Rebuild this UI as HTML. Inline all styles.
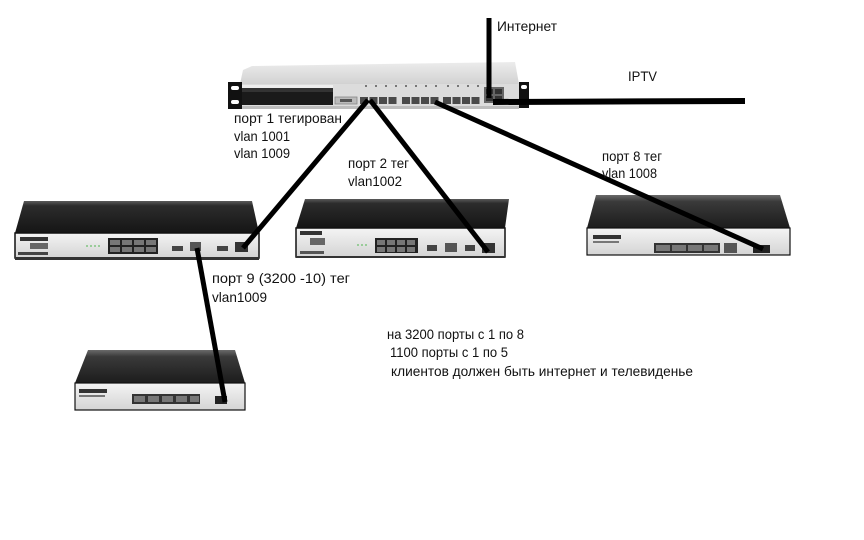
<!DOCTYPE html>
<html><head><meta charset="utf-8"><style>
html,body{margin:0;padding:0;background:#fff;}
svg{display:block;}
text{font-family:"Liberation Sans","Noto Sans CJK SC",sans-serif;font-size:14px;fill:#111;}
</style></head><body>
<svg width="864" height="540" viewBox="0 0 864 540" xmlns="http://www.w3.org/2000/svg">
<defs>
<linearGradient id="tg" x1="0" y1="0" x2="0" y2="1"><stop offset="0" stop-color="#ececec"/><stop offset="1" stop-color="#d2d2d2"/></linearGradient>
<linearGradient id="dk" x1="0" y1="0" x2="0" y2="1"><stop offset="0" stop-color="#5a5a5a"/><stop offset="0.15" stop-color="#2c2c2c"/><stop offset="1" stop-color="#151515"/></linearGradient>
<linearGradient id="dk2" x1="0" y1="0" x2="0" y2="1"><stop offset="0" stop-color="#6a6a6a"/><stop offset="0.2" stop-color="#3a3a3a"/><stop offset="1" stop-color="#1c1c1c"/></linearGradient>
<linearGradient id="fr" x1="0" y1="0" x2="0" y2="1"><stop offset="0" stop-color="#f4f4f4"/><stop offset="1" stop-color="#d4d4d4"/></linearGradient>
</defs>
<rect width="864" height="540" fill="#fff"/>

<!-- TOP SWITCH -->
<polygon points="243,70 252,66 515,62 519,84 240,84" fill="url(#tg)"/>
<rect x="240" y="84" width="279" height="24" fill="#dcdcdc"/>
<rect x="240" y="106" width="279" height="3" fill="#bdbdbd"/>
<rect x="228" y="82" width="14" height="27" fill="#111"/>
<rect x="231" y="86" width="8" height="4" rx="2" fill="#fff"/>
<rect x="231" y="100" width="8" height="4" rx="2" fill="#fff"/>
<rect x="519" y="82" width="10" height="26" fill="#111"/>
<rect x="521" y="85" width="6" height="4" rx="2" fill="#fff"/>
<rect x="242" y="85" width="91" height="3" fill="#eee"/>
<rect x="242" y="88" width="91" height="17" fill="#1a1a1a"/>
<rect x="242" y="88" width="91" height="4" fill="#333"/>
<rect x="335" y="97" width="22" height="7" fill="#bbb" stroke="#888" stroke-width="0.8"/>
<rect x="340" y="99" width="12" height="3" fill="#555"/>
<g fill="#4a4a4a">
<rect x="360" y="97" width="8" height="7"/><rect x="369.5" y="97" width="8" height="7"/><rect x="379" y="97" width="8" height="7"/><rect x="388.5" y="97" width="8" height="7"/>
<rect x="402" y="97" width="8" height="7"/><rect x="411.5" y="97" width="8" height="7"/><rect x="421" y="97" width="8" height="7"/><rect x="430.5" y="97" width="8" height="7"/>
<rect x="443" y="97" width="8" height="7"/><rect x="452.5" y="97" width="8" height="7"/><rect x="462" y="97" width="8" height="7"/><rect x="471.5" y="97" width="8" height="7"/>
</g>
<g fill="#777"><rect x="365" y="85" width="2" height="2"/><rect x="375" y="85" width="2" height="2"/><rect x="385" y="85" width="2" height="2"/><rect x="395" y="85" width="2" height="2"/><rect x="405" y="85" width="2" height="2"/><rect x="415" y="85" width="2" height="2"/><rect x="425" y="85" width="2" height="2"/><rect x="435" y="85" width="2" height="2"/><rect x="447" y="85" width="2" height="2"/><rect x="457" y="85" width="2" height="2"/><rect x="467" y="85" width="2" height="2"/><rect x="477" y="85" width="2" height="2"/></g>
<rect x="484" y="87" width="20" height="16" fill="#666"/>
<rect x="486" y="89" width="7" height="5" fill="#333"/><rect x="495" y="89" width="7" height="5" fill="#333"/>
<rect x="486" y="96" width="7" height="5" fill="#333"/><rect x="495" y="96" width="7" height="5" fill="#333"/>

<!-- LEFT SWITCH -->
<polygon points="24,201 252,201 259,233 15,233" fill="url(#dk)"/>
<rect x="15" y="233" width="244" height="25" fill="url(#fr)" stroke="#111" stroke-width="1.5"/>
<rect x="15" y="257" width="244" height="3" fill="#333"/>
<rect x="20" y="237" width="28" height="4" fill="#333"/>
<rect x="30" y="243" width="18" height="6" fill="#666"/>
<rect x="18" y="252" width="30" height="3" fill="#444"/>
<g fill="#9c9"><rect x="86" y="245" width="2" height="2"/><rect x="90" y="245" width="2" height="2"/><rect x="94" y="245" width="2" height="2"/><rect x="98" y="245" width="2" height="2"/></g>
<rect x="108" y="238" width="50" height="16" fill="#222"/>
<g fill="#777"><rect x="110" y="240" width="10" height="5"/><rect x="122" y="240" width="10" height="5"/><rect x="134" y="240" width="10" height="5"/><rect x="146" y="240" width="10" height="5"/><rect x="110" y="247" width="10" height="5"/><rect x="122" y="247" width="10" height="5"/><rect x="134" y="247" width="10" height="5"/><rect x="146" y="247" width="10" height="5"/></g>
<rect x="172" y="246" width="11" height="5" fill="#444"/>
<rect x="190" y="242" width="11" height="9" fill="#555"/>
<rect x="217" y="246" width="11" height="5" fill="#444"/>
<rect x="235" y="242" width="13" height="10" fill="#333"/>

<!-- MIDDLE SWITCH -->
<polygon points="305,199 509,199 505,228 296,228" fill="url(#dk)"/>
<rect x="296" y="228" width="209" height="29" fill="url(#fr)" stroke="#111" stroke-width="1.5"/>
<rect x="296" y="256" width="209" height="2" fill="#333"/>
<rect x="300" y="231" width="22" height="4" fill="#333"/>
<rect x="310" y="238" width="15" height="7" fill="#666"/>
<rect x="300" y="251" width="24" height="3" fill="#555"/>
<g fill="#9c9"><rect x="357" y="244" width="2" height="2"/><rect x="361" y="244" width="2" height="2"/><rect x="365" y="244" width="2" height="2"/></g>
<rect x="375" y="238" width="43" height="15" fill="#222"/>
<g fill="#777"><rect x="377" y="240" width="8" height="5"/><rect x="387" y="240" width="8" height="5"/><rect x="397" y="240" width="8" height="5"/><rect x="407" y="240" width="8" height="5"/><rect x="377" y="247" width="8" height="5"/><rect x="387" y="247" width="8" height="5"/><rect x="397" y="247" width="8" height="5"/><rect x="407" y="247" width="8" height="5"/></g>
<rect x="427" y="245" width="10" height="6" fill="#444"/>
<rect x="445" y="243" width="12" height="9" fill="#555"/>
<rect x="465" y="245" width="10" height="6" fill="#444"/>
<rect x="482" y="243" width="13" height="10" fill="#333"/>

<!-- RIGHT SWITCH -->
<polygon points="596,195 780,195 790,228 587,228" fill="url(#dk2)"/>
<rect x="587" y="228" width="203" height="27" fill="url(#fr)" stroke="#111" stroke-width="1.2"/>
<rect x="593" y="235" width="28" height="4" fill="#333"/>
<rect x="593" y="241" width="26" height="2" fill="#777"/>
<rect x="654" y="243" width="66" height="10" fill="#333"/>
<g fill="#777"><rect x="656" y="245" width="14" height="6"/><rect x="672" y="245" width="14" height="6"/><rect x="688" y="245" width="14" height="6"/><rect x="704" y="245" width="14" height="6"/></g>
<rect x="724" y="243" width="13" height="10" fill="#555"/>
<rect x="753" y="245" width="17" height="8" fill="#222"/>

<!-- BOTTOM SWITCH -->
<polygon points="88,350 235,350 245,383 75,383" fill="url(#dk2)"/>
<rect x="75" y="383" width="170" height="27" fill="url(#fr)" stroke="#111" stroke-width="1.2"/>
<rect x="79" y="389" width="28" height="4" fill="#333"/>
<rect x="79" y="395" width="26" height="2" fill="#777"/>
<rect x="132" y="394" width="68" height="10" fill="#333"/>
<g fill="#777"><rect x="134" y="396" width="11" height="6"/><rect x="148" y="396" width="11" height="6"/><rect x="162" y="396" width="11" height="6"/><rect x="176" y="396" width="11" height="6"/><rect x="190" y="396" width="9" height="6"/></g>
<rect x="215" y="396" width="12" height="8" fill="#222"/>

<!-- CONNECTORS -->
<g stroke="#000" stroke-width="5" stroke-linecap="butt" fill="none">
<line x1="489" y1="18" x2="489" y2="98"/>
<line x1="493" y1="102" x2="745" y2="101" stroke-width="6"/>
<line x1="368" y1="100" x2="243" y2="248"/>
<line x1="370" y1="100" x2="488" y2="252"/>
<line x1="435" y1="102" x2="763" y2="249"/>
<line x1="197" y1="248" x2="225" y2="402"/>
</g>

<!-- LABELS -->
<text x="497" y="31" textLength="60" lengthAdjust="spacingAndGlyphs">Интернет</text>
<text x="628" y="81" textLength="29" lengthAdjust="spacingAndGlyphs">IPTV</text>
<text x="234" y="123" textLength="108" lengthAdjust="spacingAndGlyphs">порт 1 тегирован</text>
<text x="234" y="141" textLength="56" lengthAdjust="spacingAndGlyphs">vlan 1001</text>
<text x="234" y="158" textLength="56" lengthAdjust="spacingAndGlyphs">vlan 1009</text>
<text x="348" y="168" textLength="61" lengthAdjust="spacingAndGlyphs">порт 2 тег</text>
<text x="348" y="186" textLength="54" lengthAdjust="spacingAndGlyphs">vlan1002</text>
<text x="602" y="161" textLength="60" lengthAdjust="spacingAndGlyphs">порт 8 тег</text>
<text x="602" y="178" textLength="55" lengthAdjust="spacingAndGlyphs">vlan 1008</text>
<text x="212" y="283" textLength="138" lengthAdjust="spacingAndGlyphs">порт 9 (3200 -10) тег</text>
<text x="212" y="302" textLength="55" lengthAdjust="spacingAndGlyphs">vlan1009</text>
<text x="387" y="339" textLength="137" lengthAdjust="spacingAndGlyphs">на 3200 порты с 1 по 8</text>
<text x="390" y="357" textLength="118" lengthAdjust="spacingAndGlyphs">1100 порты с 1 по 5</text>
<text x="391" y="376" textLength="302" lengthAdjust="spacingAndGlyphs">клиентов должен быть интернет и телевиденье</text>
</svg>
</body></html>
